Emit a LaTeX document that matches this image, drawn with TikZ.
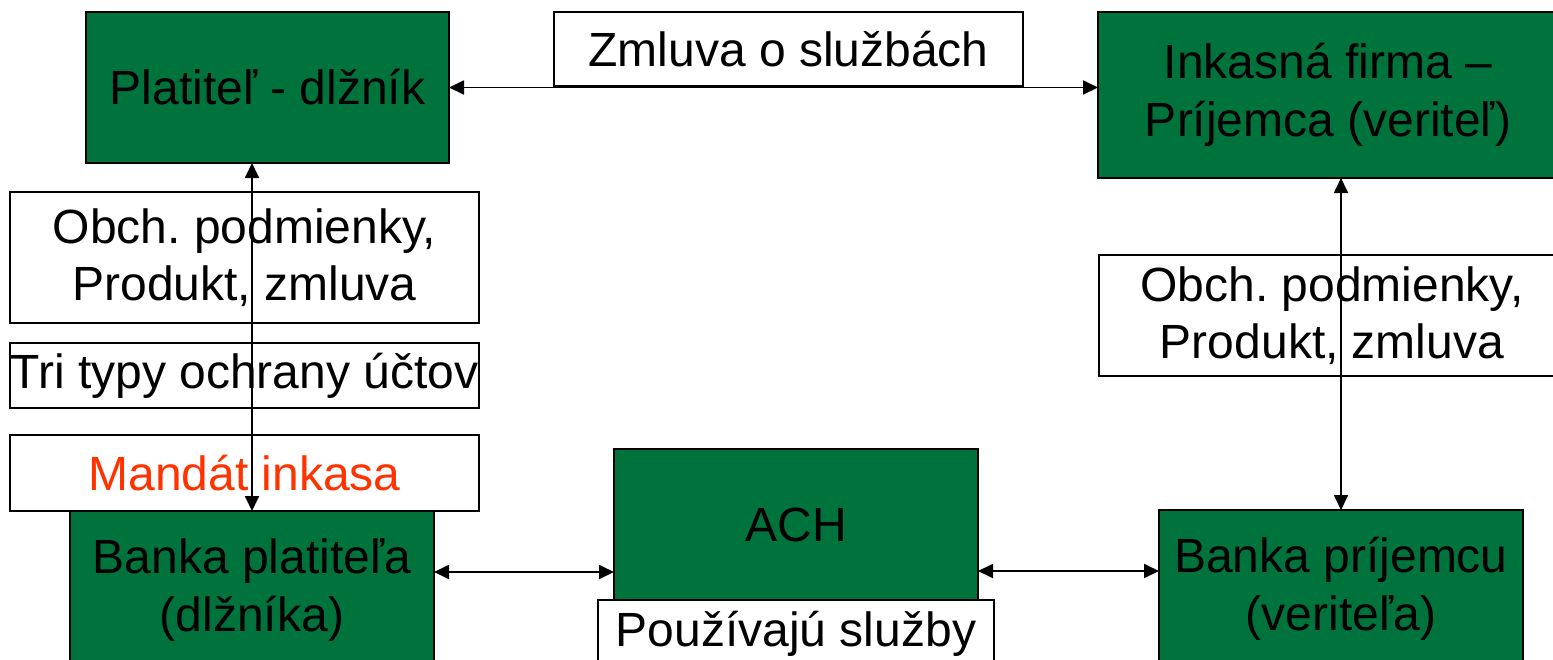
\documentclass[tikz,border=0pt]{standalone}
\usepackage{fontspec}
\setmainfont{Liberation Sans}
\usetikzlibrary{arrows.meta}
\definecolor{boxgreen}{RGB}{0,114,59}
\definecolor{mandred}{RGB}{255,51,0}
\tikzset{
  basebox/.style={draw=black, line width=0.85pt, inner sep=0pt, outer sep=0pt,
    anchor=north west, align=center, font=\frenchspacing\fontsize{24pt}{28.8pt}\selectfont},
  greenbox/.style={basebox, fill=boxgreen},
  whitebox/.style={basebox, fill=white},
  link/.style={line width=0.9pt, {Triangle[length=7.5pt,width=7pt]}-{Triangle[length=7.5pt,width=7pt]}}
}
\begin{document}
\begin{tikzpicture}[x=0.5pt,y=-0.5pt]
\useasboundingbox (0,0) rectangle (1553,659);
\clip (0,0) rectangle (1553,659);
\fill[white] (0,0) rectangle (1553,659);
% top row
\node[greenbox, minimum width=181.5pt, minimum height=75.5pt] (pl) at (86,12) {Platiteľ - dlžník};
\node[whitebox, minimum width=234.5pt, minimum height=37pt] (zm) at (554,12) {Zmluva o službách};
\node[greenbox, minimum width=230pt, minimum height=83pt] (ink) at (1098,12) {Inkasná firma –\\Príjemca (veriteľ)};
% left column labels
\node[whitebox, minimum width=234.5pt, minimum height=65.5pt] (obl) at (10,192) {Obch. podmienky,\\Produkt, zmluva};
\node[whitebox, minimum width=234.5pt, minimum height=32.5pt] (tri) at (10,343) {Tri typy ochrany účtov};
\node[whitebox, minimum width=234.5pt, minimum height=38pt, text=mandred] (mand) at (10,435) {Mandát inkasa};
% right label
\node[whitebox, minimum width=233pt, minimum height=60.5pt] (obr) at (1099,255) {Obch. podmienky,\\Produkt, zmluva};
% bottom row
\node[greenbox, minimum width=182pt, minimum height=79pt] (bp) at (70,511) {Banka platiteľa\\(dlžníka)};
\node[greenbox, minimum width=182pt, minimum height=76pt] (ach) at (614,449) {ACH};
\node[whitebox, minimum width=198pt, minimum height=34pt] (pou) at (598,600) {Používajú služby};
\node[greenbox, minimum width=182pt, minimum height=79pt] (bpr) at (1159,510) {Banka príjemcu\\(veriteľa)};
% connectors
\draw[link] (pl.east) -- (pl.east -| ink.west);
\draw[link] (pl.south -| bp.north) -- (bp.north);
\draw[link] (ink.south -| bpr.north) -- (bpr.north);
\draw[link] ([yshift=-30.5pt]bp.north east) -- ([yshift=-30.5pt]bp.north east -| ach.west);
\draw[link] ([yshift=-30.5pt]bpr.north west -| ach.east) -- ([yshift=-30.5pt]bpr.north west);
\end{tikzpicture}
\end{document}
